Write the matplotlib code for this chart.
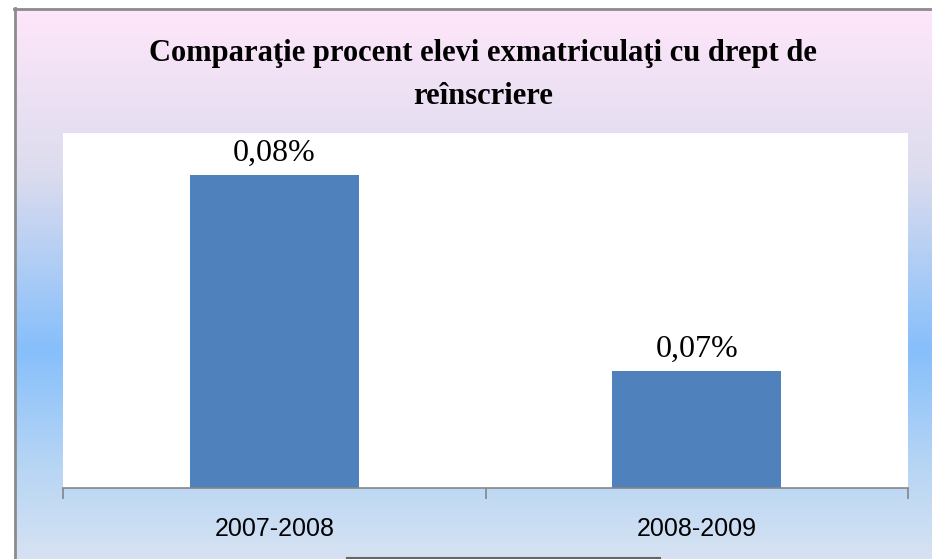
import numpy as np
import matplotlib
matplotlib.use("Agg")
import matplotlib.pyplot as plt
from matplotlib.colors import LinearSegmentedColormap
from matplotlib.lines import Line2D

categories = ["2007-2008", "2008-2009"]
values = [0.08, 0.07]
value_labels = ["0,08%", "0,07%"]
title = "Comparaţie procent elevi exmatriculaţi cu drept de\nreînscriere"

W, H = 932, 559
fig = plt.figure(figsize=(W / 100, H / 100), dpi=100)
fig.patch.set_facecolor("white")

# gradient background of chart area
bg = fig.add_axes([14 / W, 0, 1 - 14 / W, 551 / H])
cmap = LinearSegmentedColormap.from_list(
    "bg",
    [(0.0, "#FFE6FA"), (0.30, "#DCDCEE"), (0.62, "#86BFFB"),
     (0.82, "#B4D4F5"), (1.0, "#D6E2F2")])
grad = np.linspace(0, 1, 256).reshape(-1, 1)
bg.imshow(grad, aspect="auto", cmap=cmap, extent=[0, 1, 0, 1], origin="upper")
bg.set_axis_off()
bg.set_zorder(-10)

# border lines (top and left)
fig.add_artist(Line2D([14 / W, 1], [1 - 8.5 / H, 1 - 8.5 / H], color="#8C8C8C", lw=2,
                      transform=fig.transFigure))
fig.add_artist(Line2D([14.5 / W, 14.5 / W], [0, 1 - 8 / H], color="#8C8C8C", lw=2,
                      transform=fig.transFigure))
# bottom artifact line
fig.add_artist(Line2D([347 / W, 660 / W], [1 - 557.5 / H, 1 - 557.5 / H], color="#666666", lw=1.5,
                      transform=fig.transFigure))

ax = fig.add_axes([63 / W, 1 - 488 / H, (908 - 63) / W, (488 - 133) / H])
ax.set_facecolor("white")
x = np.arange(len(categories))
bars = ax.bar(x, values, width=0.4, color="#4F81BD", zorder=2)
ax.set_xlim(-0.5, 1.5)
ax.set_ylim(0.0640, 0.08215)

for xi, v, lab in zip(x, values, value_labels):
    ax.annotate(lab, (xi, v), xytext=(0, 5), textcoords="offset points",
                ha="center", va="bottom", fontsize=23, family="Liberation Serif",
                color="black")

for s in ["left", "right", "top"]:
    ax.spines[s].set_visible(False)
ax.spines["bottom"].set_color("#868686")
ax.spines["bottom"].set_linewidth(1.2)
ax.set_yticks([])
ax.set_xticks([-0.5, 0.5, 1.5], minor=False)
ax.set_xticklabels([])
ax.tick_params(axis="x", which="major", length=8, color="#868686", width=1.2)
ax.set_xticks(x, minor=True)
ax.set_xticklabels(categories, minor=True, fontsize=18, family="Liberation Sans")
ax.tick_params(axis="x", which="minor", length=0, pad=21)

fig.text(483 / W, 1 - 75 / H, title, ha="center", va="center",
         fontsize=22, fontweight="bold", family="Liberation Serif",
         linespacing=1.6)

fig.savefig("out.png", dpi=100)
